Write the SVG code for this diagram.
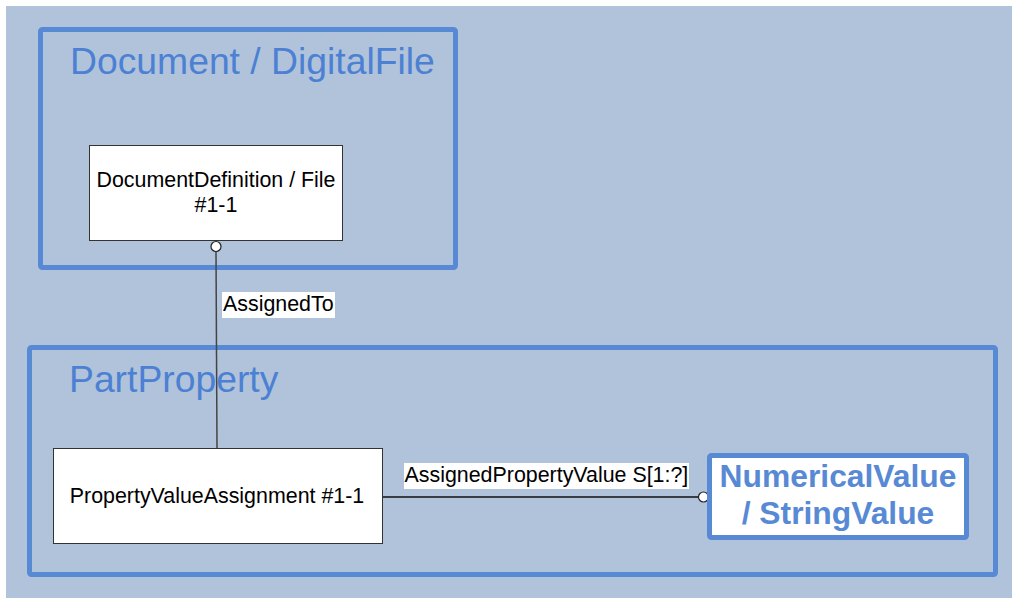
<svg xmlns="http://www.w3.org/2000/svg" width="1014" height="599" viewBox="0 0 1014 599">
<style>
.frame{fill:none;stroke:#5889D5;stroke-width:5}
.ftitle{font-family:"Liberation Sans",Arial,sans-serif;font-size:37.3px;fill:#4C80D3}
.box{fill:#fff;stroke:#333;stroke-width:1}
.t{font-family:"Liberation Sans",Arial,sans-serif;font-size:21.4px;fill:#000}
.conn{fill:none;stroke:#444;stroke-width:1.5}
.end{fill:#fff;stroke:#222;stroke-width:1.2}
.lblbg{fill:#fff}
.bold{font-family:"Liberation Sans",Arial,sans-serif;font-size:31.8px;font-weight:bold;fill:#5889D5}
</style>
<rect x="6" y="6" width="1006" height="592" fill="#B0C3DB"/>
<g id="frame-document">
<rect class="frame" x="40.5" y="29.5" width="415" height="238" rx="2"/>
<text class="ftitle" x="70" y="74">Document / DigitalFile</text>
</g>
<g id="frame-partproperty">
<rect class="frame" x="29.5" y="347.5" width="966" height="227" rx="2"/>
<text class="ftitle" x="69" y="392">PartProperty</text>
</g>
<g id="connectors">
<line class="conn" x1="216" y1="251.5" x2="217" y2="448"/>
<circle class="end" cx="216" cy="246.5" r="5"/>
<rect class="lblbg" x="222" y="292" width="113" height="26"/>
<text class="t" x="223" y="311">AssignedTo</text>
<line x1="383" y1="497" x2="698" y2="497" stroke="#111" stroke-width="1.3"/>
<circle class="end" cx="703.5" cy="497" r="5"/>
<rect class="lblbg" x="404" y="463" width="285" height="26"/>
<text class="t" x="404.5" y="482">AssignedPropertyValue S[1:?]</text>
</g>
<g id="node-documentdefinition">
<rect class="box" x="89.5" y="145.5" width="253" height="95"/>
<text class="t" x="216" y="187" text-anchor="middle">DocumentDefinition / File</text>
<text class="t" x="216" y="212" text-anchor="middle">#1-1</text>
</g>
<g id="node-propertyvalueassignment">
<rect class="box" x="53.5" y="448.5" width="329" height="95"/>
<text class="t" x="217" y="503" text-anchor="middle">PropertyValueAssignment #1-1</text>
</g>
<g id="node-value">
<rect x="709.5" y="455.5" width="257" height="82" rx="2" fill="#fff" stroke="#5889D5" stroke-width="5"/>
<text class="bold" x="838" y="487" text-anchor="middle">NumericalValue</text>
<text class="bold" x="838" y="524" text-anchor="middle">/ StringValue</text>
</g>
</svg>
